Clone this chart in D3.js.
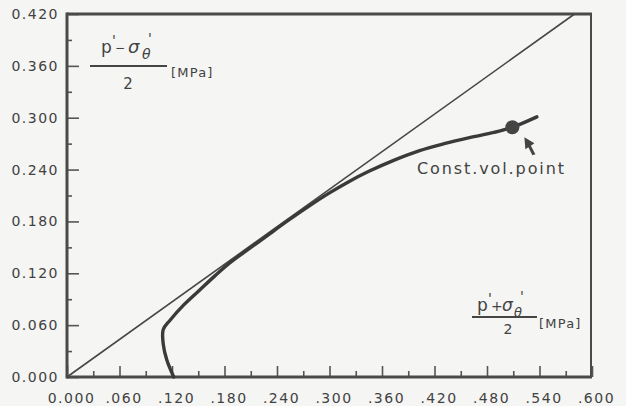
<!DOCTYPE html>
<html>
<head>
<meta charset="utf-8">
<script src="https://cdn.jsdelivr.net/npm/d3@7"></script>
<style>
  html, body { margin: 0; padding: 0; background: #f5f5f3; }
  svg { display: block; }
  text { font-family: "DejaVu Sans", sans-serif; fill: #424242; }
</style>
</head>
<body>
<div id="chart"></div>
<script>
// ---- data ----
const xMajorTicks = [0, 0.06, 0.12, 0.18, 0.24, 0.30, 0.36, 0.42, 0.48, 0.54, 0.60];
const xTickLabels = ["0.000", ".060", ".120", ".180", ".240", ".300", ".360", ".420", ".480", ".540", ".600"];
const xMinorTicks = [0.03, 0.09, 0.15, 0.21, 0.27, 0.33, 0.39, 0.45, 0.51, 0.57];
const yMajorTicks = [0, 0.06, 0.12, 0.18, 0.24, 0.30, 0.36, 0.42];
const yTickLabels = ["0.000", "0.060", "0.120", "0.180", "0.240", "0.300", "0.360", "0.420"];
const yMinorTicks = [0.03, 0.09, 0.15, 0.21, 0.27, 0.33, 0.39];

// straight failure line through origin
const lineS = [0, 0.58];
const lineT = [0, 0.42];

// stress path s' = (p'+sigma'θ)/2, t' = (p'-sigma'θ)/2
const pathS = [0.122, 0.114, 0.110, 0.110, 0.118, 0.134, 0.152, 0.169, 0.186, 0.209, 0.232, 0.254,
               0.277, 0.300, 0.322, 0.345, 0.374, 0.403, 0.431, 0.460, 0.488, 0.509, 0.537];
const pathT = [0.000, 0.020, 0.038, 0.055, 0.066, 0.084, 0.101, 0.117, 0.132, 0.149, 0.166, 0.182,
               0.198, 0.213, 0.226, 0.238, 0.251, 0.262, 0.270, 0.277, 0.283, 0.289, 0.301];

const constVolPoint = { s: 0.509, t: 0.289, label: "Const.vol.point" };

// ---- drawing ----
const W = 626, H = 406;
const ink = "#3a3a3a";

const svg = d3.select("#chart").append("svg").attr("width", W).attr("height", H);

const x = d3.scaleLinear().domain([0, 0.6]).range([67, 592]);
const y = d3.scaleLinear().domain([0, 0.42]).range([377, 14]);

// minor ticks
svg.append("g")
  .attr("transform", "translate(0," + y(0) + ")")
  .call(d3.axisBottom(x).tickValues(xMinorTicks).tickSize(-6).tickFormat(""))
  .call(g => g.select(".domain").remove());
svg.append("g")
  .attr("transform", "translate(" + x(0) + ",0)")
  .call(d3.axisLeft(y).tickValues(yMinorTicks).tickSize(-5).tickFormat(""))
  .call(g => g.select(".domain").remove());

// major ticks + labels
svg.append("g")
  .attr("class", "xaxis")
  .attr("transform", "translate(0," + y(0) + ")")
  .call(d3.axisBottom(x).tickValues(xMajorTicks).tickSize(-11).tickPadding(16)
        .tickFormat((d, i) => xTickLabels[i]))
  .call(g => g.select(".domain").remove());
svg.append("g")
  .attr("class", "yaxis")
  .attr("transform", "translate(" + x(0) + ",0)")
  .call(d3.axisLeft(y).tickValues(yMajorTicks).tickSize(-12).tickPadding(8)
        .tickFormat((d, i) => yTickLabels[i]))
  .call(g => g.select(".domain").remove());

svg.selectAll(".tick line").attr("stroke", "#555").attr("stroke-width", 1.6);
svg.selectAll(".tick text")
  .attr("fill", "#444")
  .style("font-family", "DejaVu Sans, sans-serif")
  .style("font-size", "14px")
  .style("letter-spacing", "1.5px");
svg.selectAll(".xaxis .tick text").attr("x", 4);

// frame
const frame = svg.append("g").attr("stroke", "#4a4a4a").attr("fill", "none");
frame.append("line").attr("x1", x(0)).attr("x2", x(0.6)).attr("y1", y(0.42)).attr("y2", y(0.42)).attr("stroke-width", 3);
frame.append("line").attr("x1", x(0.6) - 1).attr("x2", x(0.6) - 1).attr("y1", y(0.42)).attr("y2", y(0)).attr("stroke-width", 2);
frame.append("line").attr("x1", x(0)).attr("x2", x(0)).attr("y1", y(0.42) - 1.5).attr("y2", y(0) + 1.5).attr("stroke-width", 3);
frame.append("line").attr("x1", x(0)).attr("x2", x(0.6)).attr("y1", y(0)).attr("y2", y(0)).attr("stroke-width", 3);

// failure line
svg.append("path")
  .datum(lineS.map((s, i) => [s, lineT[i]]))
  .attr("fill", "none")
  .attr("stroke", "#474747")
  .attr("stroke-width", 1.6)
  .attr("d", d3.line().x(d => x(d[0])).y(d => y(d[1])));

// stress path
svg.append("path")
  .datum(pathS.map((s, i) => [s, pathT[i]]))
  .attr("fill", "none")
  .attr("stroke", ink)
  .attr("stroke-width", 3.4)
  .attr("stroke-linejoin", "round")
  .attr("stroke-linecap", "round")
  .attr("d", d3.line().x(d => x(d[0])).y(d => y(d[1])).curve(d3.curveCatmullRom.alpha(0.5)));

// constant volume point + arrow + label
const cx = x(constVolPoint.s), cy = y(constVolPoint.t);
svg.append("circle").attr("cx", cx).attr("cy", cy).attr("r", 7).attr("fill", "#444");

const tipX = cx + 12, tipY = cy + 10;
svg.append("path")
  .attr("d", "M" + tipX + "," + tipY +
             " L" + (tipX + 10) + "," + (tipY + 6) +
             " L" + (tipX + 6.5) + "," + (tipY + 8.5) +
             " L" + (tipX + 11) + "," + (tipY + 17) +
             " L" + (tipX + 8) + "," + (tipY + 18) +
             " L" + (tipX + 4) + "," + (tipY + 10) +
             " L" + (tipX + 1) + "," + (tipY + 12) + " Z")
  .attr("fill", "#444");

svg.append("text")
  .attr("x", 417).attr("y", 174)
  .style("font-size", "16px")
  .style("letter-spacing", "1.9px")
  .text(constVolPoint.label);

// axis labels as fractions
function part(txt, px, py, size, italic, spacing) {
  svg.append("text")
    .attr("x", px).attr("y", py)
    .style("font-size", size + "px")
    .style("font-style", italic ? "italic" : "normal")
    .style("letter-spacing", (spacing || 0) + "px")
    .text(txt);
}
function bar(x1, x2, yy) {
  svg.append("line").attr("x1", x1).attr("x2", x2).attr("y1", yy).attr("y2", yy)
    .attr("stroke", "#454545").attr("stroke-width", 1.8);
}

// t' label (upper left)
part("p", 101, 53, 17, false);
part("'", 112, 45, 14, false);
part("\u2212", 115, 52, 12, false);
part("\u03C3", 128, 53, 18, true);
part("\u03B8", 142, 59, 14, true);
part("'", 148, 43, 14, false);
bar(90, 167, 66);
svg.append("text").attr("x", 128).attr("y", 89).attr("text-anchor", "middle").style("font-size", "15px").text("2");
part("[MPa]", 171, 77, 13, false, 1.2);

// s' label (lower right)
part("p", 477, 311, 17, false);
part("'", 488, 303, 14, false);
part("+", 491, 311, 14, false);
part("\u03C3", 502, 311, 17, true);
part("\u03B8", 514, 317, 13, true);
part("'", 520, 301, 14, false);
bar(472, 537, 317);
svg.append("text").attr("x", 508).attr("y", 334).attr("text-anchor", "middle").style("font-size", "14px").text("2");
part("[MPa]", 539, 328, 13, false, 1.2);
</script>
</body>
</html>
